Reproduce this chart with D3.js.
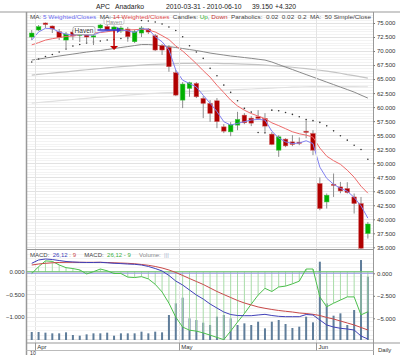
<!DOCTYPE html>
<html>
<head>
<meta charset="utf-8">
<script src="https://cdn.jsdelivr.net/npm/d3@7"></script>
<style>
    body { margin: 0; background: #fff; }
    svg text { font-family: "Liberation Sans", Arial, sans-serif; }
</style>
</head>
<body>
<div id="chart"></div>
<script>

/*
DATA
*/
const dates = ["2010-03-31","2010-04-01","2010-04-05","2010-04-06","2010-04-07","2010-04-08","2010-04-09",
    "2010-04-12","2010-04-13","2010-04-14","2010-04-15","2010-04-16","2010-04-19","2010-04-20","2010-04-21",
    "2010-04-22","2010-04-23","2010-04-26","2010-04-27","2010-04-28","2010-04-29","2010-04-30","2010-05-03",
    "2010-05-04","2010-05-05","2010-05-06","2010-05-07","2010-05-10","2010-05-11","2010-05-12","2010-05-13",
    "2010-05-14","2010-05-17","2010-05-18","2010-05-19","2010-05-20","2010-05-21","2010-05-24","2010-05-25",
    "2010-05-26","2010-05-27","2010-05-28","2010-06-01","2010-06-02","2010-06-03","2010-06-04","2010-06-07",
    "2010-06-08","2010-06-09","2010-06-10"];

const open = [72.50,73.75,75.00,74.46,73.45,71.96,73.39,72.77,72.86,72.68,74.11,74.38,73.75,73.57,73.93,
    71.66,73.21,73.93,72.73,70.95,70.66,66.13,61.25,63.34,64.23,61.55,60.66,61.13,56.48,55.59,56.79,
    58.57,58.04,58.27,57.98,55.18,52.32,54.29,53.80,53.75,55.71,55.30,46.38,43.09,46.25,45.77,45.48,
    43.98,42.80,37.45];
const high = [73.75,74.64,75.09,74.55,73.93,73.39,73.75,73.57,73.75,73.45,74.82,74.64,74.55,74.46,74.29,
    73.84,74.46,74.11,73.04,71.25,71.07,66.61,64.46,64.52,64.46,61.96,61.25,61.61,56.96,57.32,59.16,
    58.93,58.39,59.46,58.93,55.54,55.00,54.46,55.00,54.59,57.68,55.89,47.45,44.59,48.16,46.66,46.61,
    44.59,43.98,39.52];
const low = [71.96,73.57,74.11,73.21,71.96,70.54,71.96,71.61,71.43,71.07,73.75,73.39,73.21,73.21,71.66,
    71.43,72.50,73.04,70.00,69.29,66.30,61.96,59.82,61.84,61.61,58.04,57.38,56.25,55.36,54.82,55.89,
    56.96,56.61,57.68,55.59,53.21,51.13,52.86,53.04,53.21,54.46,51.43,41.61,41.91,43.98,44.64,44.59,
    41.02,34.50,36.55];
const close = [73.21,74.34,74.73,73.93,72.38,73.04,72.68,73.21,72.50,72.71,74.64,73.75,74.29,74.11,72.55,
    73.45,74.11,73.39,70.18,70.18,67.20,62.14,64.11,64.34,61.84,60.66,58.88,57.41,55.71,56.91,57.80,
    57.20,57.14,57.98,56.61,53.34,54.70,53.09,53.34,53.57,55.48,52.32,41.91,44.29,46.07,45.05,44.77,
    42.80,34.83,39.15];

// volume, millions of shares
const volume = [4.8,4.8,4.4,4.0,4.0,4.6,3.0,2.6,3.4,4.0,4.0,4.4,2.6,4.0,4.0,4.0,5.0,4.0,5.0,4.6,15.0,22.0,
    25.4,13.0,12.0,10.4,9.0,14.0,15.0,13.0,9.0,10.0,9.0,11.0,7.0,11.0,12.0,9.6,7.2,8.0,14.0,10.6,47.0,
    22.0,14.6,16.0,9.0,18.0,48.0,38.0];

const wma5 = [71.95,73.40,74.05,74.00,73.40,73.00,72.85,72.95,72.85,72.85,73.40,73.60,73.75,73.75,73.60,
    73.30,74.00,73.90,72.55,71.65,70.20,66.60,64.80,64.20,63.60,62.10,60.70,59.20,57.40,56.80,57.10,
    57.40,57.70,57.80,57.70,55.70,54.50,53.80,53.50,53.60,54.00,53.50,49.30,47.30,46.25,45.50,45.00,
    43.90,42.40,40.20];
const wma14 = [71.10,71.50,71.95,72.20,72.40,72.60,72.70,72.95,73.05,73.20,73.30,73.45,73.60,73.70,73.75,
    73.80,73.90,73.75,73.40,72.75,72.05,70.90,70.00,68.90,67.75,66.50,65.35,63.90,62.60,61.25,60.20,
    59.45,58.85,58.40,57.95,57.20,56.70,56.15,55.60,55.25,55.00,54.65,52.70,51.25,50.45,49.80,48.75,
    47.50,45.90,44.65];
const parabolic = [68.04,68.57,69.02,69.38,69.82,70.36,70.89,71.16,71.43,71.61,71.79,71.96,72.05,72.23,
    72.32,72.50,75.45,75.36,75.18,74.82,74.29,73.66,72.55,70.95,69.82,68.70,66.91,65.59,63.93,62.63,
    61.13,59.77,59.11,55.48,55.41,59.46,59.34,59.05,58.70,58.27,57.80,57.59,57.27,56.66,55.77,54.88,
    54.11,53.21,52.45,50.71];
const ma50 = [68.39,68.57,68.75,68.93,69.11,69.29,69.46,69.64,69.82,69.96,70.09,70.27,70.45,70.63,70.80,
    70.98,71.16,71.16,71.07,70.95,70.80,70.63,70.45,70.27,70.09,69.88,69.64,69.46,69.29,69.11,68.98,
    68.84,68.70,68.54,68.39,68.04,67.59,67.14,66.70,66.25,65.80,65.36,64.91,64.46,64.02,63.57,63.13,
    62.68,62.14,61.61];
const maUpper = [65.71,65.84,65.95,66.07,66.18,66.30,66.43,66.55,66.66,66.79,66.89,67.00,67.11,67.21,67.32,
    67.41,67.50,67.57,67.63,67.68,67.71,67.75,67.79,67.80,67.82,67.82,67.82,67.80,67.77,67.75,67.71,
    67.68,67.63,67.57,67.50,67.41,67.32,67.21,67.11,66.98,66.86,66.71,66.57,66.41,66.25,66.04,65.80,
    65.61,65.39,65.18];
const maLower = [60.71,60.82,60.93,61.04,61.14,61.25,61.36,61.46,61.57,61.68,61.79,61.88,61.96,62.05,62.14,
    62.23,62.32,62.39,62.46,62.54,62.59,62.64,62.70,62.75,62.80,62.86,62.91,62.96,63.02,63.07,63.13,
    63.18,63.23,63.29,63.34,63.39,63.45,63.50,63.55,63.59,63.63,63.64,63.66,63.66,63.66,63.66,63.64,
    63.64,63.63,63.63];

const macd = [1.11,1.48,1.59,1.53,1.42,1.31,1.26,1.22,1.20,1.20,1.22,1.17,1.11,1.08,1.03,1.00,0.92,0.76,
    0.53,0.26,-0.24,-0.86,-1.30,-1.86,-2.41,-2.86,-3.41,-3.86,-4.30,-4.58,-4.69,-4.71,-4.71,-4.63,-4.56,
    -4.69,-4.78,-4.82,-4.82,-4.82,-4.58,-4.63,-5.19,-5.74,-5.97,-6.11,-6.19,-6.30,-6.97,-7.30];
const signal = [0.92,1.03,1.11,1.17,1.20,1.22,1.22,1.22,1.22,1.22,1.22,1.20,1.17,1.14,1.11,1.06,0.98,0.89,
    0.76,0.59,0.37,0.09,-0.24,-0.58,-0.91,-1.24,-1.63,-2.02,-2.36,-2.69,-3.02,-3.30,-3.52,-3.74,-3.89,
    -4.02,-4.13,-4.22,-4.30,-4.41,-4.47,-4.56,-4.69,-4.91,-5.08,-5.30,-5.52,-5.74,-6.02,-6.30];
const histogram = [-0.04,0.11,0.24,0.23,0.15,0.09,0.07,0.04,-0.05,0.00,0.06,0.02,-0.04,-0.04,-0.12,-0.13,
    -0.11,-0.16,-0.28,-0.45,-0.70,-1.01,-1.23,-1.30,-1.32,-1.36,-1.41,-1.46,-1.51,-1.32,-1.12,-0.93,
    -0.72,-0.52,-0.37,-0.44,-0.34,-0.32,-0.27,-0.21,0.06,0.06,-0.56,-0.78,-0.70,-0.63,-0.56,-0.56,
    -0.96,-0.89];

const priceTicks = [35,37.5,40,42.5,45,47.5,50,52.5,55,57.5,60,62.5,65,67.5,70,72.5,75];
const macdTicks = [0,-0.5,-1];
const rightTicks = [0,-2.5,-5];

const width = 400;
const height = 355;

const svg = d3.select("#chart")
    .append("svg")
    .attr("width", width)
    .attr("height", height);

const pLeft = 26.5, pRight = 373.5, pTop = 12, mainBottom = 249.5, macdBottom = 343;

/*
SCALES
*/
const xScale = d3.scaleBand().domain(dates).range([28.3, 371.3]);
const xc = function(i) { return xScale(dates[i]) + xScale.bandwidth() / 2; };

const yScale = d3.scaleLinear().domain([35, 75]).range([247.3, 23]);
const yMacd = d3.scaleLinear().domain([0, -1]).range([271.7, 316.7]);
const yRight = d3.scaleLinear().domain([0, -5]).range([273.3, 318.3]);
const yVol = d3.scaleLinear().domain([0, 50]).range([340, 256.7]);

svg.append("clipPath").attr("id", "clipMain")
    .append("rect").attr("x", pLeft).attr("y", pTop).attr("width", pRight - pLeft).attr("height", mainBottom - pTop);
svg.append("clipPath").attr("id", "clipMacd")
    .append("rect").attr("x", pLeft).attr("y", mainBottom).attr("width", pRight - pLeft).attr("height", macdBottom - mainBottom);

/*
GRID
*/
const main = svg.append("g").attr("clip-path", "url(#clipMain)");
const minor = d3.range(33, 77.01, 0.5);
main.selectAll("line.minor").data(minor).enter().append("line")
    .attr("x1", pLeft).attr("x2", pRight)
    .attr("y1", function(d) { return Math.round(yScale(d)) + 0.5; })
    .attr("y2", function(d) { return Math.round(yScale(d)) + 0.5; })
    .attr("stroke", function(d) { return d % 2.5 === 0 ? "#e2e2e2" : "#f3f3f3"; });

const monthStarts = dates.map(function(d, i) { return i; }).filter(function(i) {
    return i > 0 && dates[i].slice(5, 7) !== dates[i - 1].slice(5, 7);
});

svg.selectAll("line.vgrid").data(monthStarts).enter().append("line")
    .attr("x1", function(i) { return Math.round(xScale(dates[i])) + 0.5; })
    .attr("x2", function(i) { return Math.round(xScale(dates[i])) + 0.5; })
    .attr("y1", pTop).attr("y2", macdBottom)
    .attr("stroke", "#e4e4e4");

/*
MOVING AVERAGES (GRAY)
*/
function priceLine(values) {
    return d3.line()
        .x(function(d, i) { return xc(i); })
        .y(function(d) { return yScale(d); })(values);
}

main.append("path").attr("d", priceLine(maLower)).attr("fill", "none").attr("stroke", "#e0e0e0").attr("stroke-width", 1.2);
main.append("path").attr("d", priceLine(maUpper)).attr("fill", "none").attr("stroke", "#c4c4c4").attr("stroke-width", 1.2);
main.append("path").attr("d", priceLine(ma50)).attr("fill", "none").attr("stroke", "#8a8a8a").attr("stroke-width", 1);

/*
PARABOLIC SAR
*/
main.selectAll("circle.sar").data(parabolic).enter().append("circle")
    .attr("cx", function(d, i) { return xc(i); })
    .attr("cy", function(d) { return yScale(d); })
    .attr("r", 0.8)
    .attr("fill", "#333");

/*
CANDLES
*/
const candles = main.selectAll("g.candle").data(dates).enter().append("g");

candles.append("line")
    .attr("x1", function(d, i) { return xc(i); })
    .attr("x2", function(d, i) { return xc(i); })
    .attr("y1", function(d, i) { return yScale(high[i]); })
    .attr("y2", function(d, i) { return yScale(low[i]); })
    .attr("stroke", "#8c8c8c")
    .attr("stroke-width", 1);

candles.append("rect")
    .attr("x", function(d, i) { return xc(i) - 2.3; })
    .attr("width", 4.6)
    .attr("y", function(d, i) { return yScale(Math.max(open[i], close[i])); })
    .attr("height", function(d, i) { return Math.max(1.2, Math.abs(yScale(open[i]) - yScale(close[i]))); })
    .attr("fill", function(d, i) { return close[i] >= open[i] ? "#00b000" : "#b00000"; })
    .attr("stroke", function(d, i) { return close[i] >= open[i] ? "#40c040" : "#d06060"; })
    .attr("stroke-width", 0.5);

main.append("path").attr("d", priceLine(wma14)).attr("fill", "none").attr("stroke", "#ee6a6a").attr("stroke-width", 1);
main.append("path").attr("d", priceLine(wma5)).attr("fill", "none").attr("stroke", "#8080f0").attr("stroke-width", 1);

/*
ANNOTATION
*/
const note = svg.append("g");
note.append("rect").attr("x", 104).attr("y", 17.5).attr("width", 20).attr("height", 7)
    .attr("rx", 2).attr("fill", "#fff").attr("stroke", "#aaa").attr("stroke-width", 0.6);
note.append("text").attr("x", 114).attr("y", 23.5).attr("text-anchor", "middle")
    .attr("font-size", 5.5).attr("fill", "#888").text("Haven");

const hy = yScale(73.75);
note.append("line").attr("x1", xc(12)).attr("x2", xc(12)).attr("y1", hy).attr("y2", yScale(70.7))
    .attr("stroke", "#c00000").attr("stroke-width", 1.5);
note.append("path")
    .attr("d", `M${xc(12) - 4},${yScale(70.9)} L${xc(12) + 4},${yScale(70.9)} L${xc(12)},${yScale(70.2)} Z`)
    .attr("fill", "#c00000");
note.append("line").attr("x1", xc(9) + 4).attr("x2", xc(13) - 2).attr("y1", hy).attr("y2", hy)
    .attr("stroke", "#3a3ad0").attr("stroke-width", 1.5);
note.append("path")
    .attr("d", `M${xc(13) - 4},${hy - 3} L${xc(13) - 4},${hy + 3} L${xc(13) + 0.5},${hy} Z`)
    .attr("fill", "#3a3ad0");

note.append("rect").attr("x", 73).attr("y", 26.5).attr("width", 22).attr("height", 8)
    .attr("rx", 2).attr("fill", "#fff").attr("stroke", "#999").attr("stroke-width", 0.7);
note.append("text").attr("x", 84).attr("y", 32.8).attr("text-anchor", "middle")
    .attr("font-size", 6.5).attr("fill", "#333").text("Haven");

/*
MACD PANEL
*/
const lower = svg.append("g").attr("clip-path", "url(#clipMacd)");
lower.selectAll("line.mgrid").data(d3.range(0.4, -1.61, -0.1)).enter().append("line")
    .attr("x1", pLeft).attr("x2", pRight)
    .attr("y1", function(d) { return Math.round(yMacd(d)) + 0.5; })
    .attr("y2", function(d) { return Math.round(yMacd(d)) + 0.5; })
    .attr("stroke", function(d) { return Math.abs(d * 2 - Math.round(d * 2)) < 0.01 ? "#e2e2e2" : "#f3f3f3"; });

lower.selectAll("rect.vol").data(volume).enter().append("rect")
    .attr("x", function(d, i) { return xc(i) - 1; })
    .attr("width", 2)
    .attr("y", function(d) { return yVol(d); })
    .attr("height", function(d) { return yVol(0) - yVol(d); })
    .attr("fill", "#5f7d9a");

lower.selectAll("line.hist").data(histogram).enter().append("line")
    .attr("x1", function(d, i) { return xc(i); })
    .attr("x2", function(d, i) { return xc(i); })
    .attr("y1", yMacd(0))
    .attr("y2", function(d) { return yMacd(d); })
    .attr("stroke", "#a8dca8")
    .attr("stroke-width", 1);

lower.append("line").attr("x1", pLeft).attr("x2", pRight).attr("y1", yMacd(0)).attr("y2", yMacd(0))
    .attr("stroke", "#6cc46c").attr("stroke-width", 1);
lower.append("line").attr("x1", pLeft).attr("x2", pRight).attr("y1", yRight(0)).attr("y2", yRight(0))
    .attr("stroke", "#9a9ae6").attr("stroke-width", 1);

const histLine = d3.line().x(function(d, i) { return xc(i); }).y(function(d) { return yMacd(d); });
const rightLine = d3.line().x(function(d, i) { return xc(i); }).y(function(d) { return yRight(d); });

lower.append("path").attr("d", histLine(histogram)).attr("fill", "none").attr("stroke", "#4cbf4c").attr("stroke-width", 1);
lower.append("path").attr("d", rightLine(signal)).attr("fill", "none").attr("stroke", "#c84848").attr("stroke-width", 1);
lower.append("path").attr("d", rightLine(macd)).attr("fill", "none").attr("stroke", "#4040b8").attr("stroke-width", 1);

/*
FRAME
*/
const frame = svg.append("g").attr("stroke", "#999").attr("fill", "none");
frame.append("line").attr("x1", 0).attr("x2", width).attr("y1", pTop).attr("y2", pTop);
frame.append("line").attr("x1", pLeft).attr("x2", pLeft).attr("y1", pTop).attr("y2", height).attr("stroke-width", 1.5);
frame.append("line").attr("x1", pRight).attr("x2", pRight).attr("y1", pTop).attr("y2", height);
frame.append("line").attr("x1", pLeft).attr("x2", pRight).attr("y1", mainBottom).attr("y2", mainBottom);
frame.append("line").attr("x1", pLeft).attr("x2", width).attr("y1", macdBottom).attr("y2", macdBottom);
frame.append("line").attr("x1", pLeft).attr("x2", pRight).attr("y1", 350.5).attr("y2", 350.5).attr("stroke", "#bbb");

/*
AXES
*/
function styleAxis(g) {
    g.select(".domain").remove();
    g.selectAll(".tick line").attr("stroke", "#777");
    g.selectAll(".tick text").attr("font-size", 6).attr("fill", "#333")
        .attr("font-family", "'Liberation Sans', Arial, sans-serif");
}

svg.append("g")
    .attr("transform", `translate(${pRight},0)`)
    .call(d3.axisRight(yScale).tickValues(priceTicks).tickFormat(d3.format(".3f")).tickSize(1.5).tickPadding(2))
    .call(styleAxis);

svg.append("g")
    .attr("transform", `translate(${pRight},0)`)
    .call(d3.axisRight(yRight).tickValues(rightTicks).tickFormat(d3.format(".3f")).tickSize(1.5).tickPadding(2))
    .call(styleAxis);

svg.append("g")
    .attr("transform", `translate(${pLeft},0)`)
    .call(d3.axisLeft(yMacd).tickValues(macdTicks).tickFormat(d3.format(".3f")).tickSize(0).tickPadding(2))
    .call(styleAxis);

const monthFmt = d3.timeFormat("%b");
const parse = d3.timeParse("%Y-%m-%d");
const months = svg.selectAll("g.month").data(monthStarts)
    .enter().append("g");
months.append("line")
    .attr("x1", function(i) { return Math.round(xScale(dates[i])) + 0.5; })
    .attr("x2", function(i) { return Math.round(xScale(dates[i])) + 0.5; })
    .attr("y1", macdBottom).attr("y2", 350.5)
    .attr("stroke", "#999");
months.append("text")
    .attr("x", function(i) { return xScale(dates[i]) + 2; })
    .attr("y", 349)
    .attr("font-size", 6).attr("fill", "#333")
    .text(function(i) { return monthFmt(parse(dates[i])); });

svg.append("text").attr("x", 30).attr("y", 354.5).attr("font-size", 5.2).attr("fill", "#333").text("10");
svg.append("text").attr("x", 378).attr("y", 352).attr("font-size", 6).attr("fill", "#333").text("Daily");

/*
TITLE AND LEGENDS
*/
const title = svg.append("text").attr("y", 9).attr("font-size", 6.8).attr("fill", "#222");
title.append("tspan").attr("x", 96).text("APC");
title.append("tspan").attr("x", 115).text("Anadarko");
title.append("tspan").attr("x", 166).text("2010-03-31 - 2010-06-10");
title.append("tspan").attr("x", 252).text("39.150");
title.append("tspan").attr("x", 275).text("+4.320");

const legend = svg.append("text").attr("x", 30).attr("y", 18.5).attr("font-size", 6)
    .attr("textLength", 341).attr("lengthAdjust", "spacingAndGlyphs").attr("fill", "#444")
    .attr("xml:space", "preserve");
[["MA: ", "#444"], ["5 Weighted/Closes", "#6a6af0"], ["  MA: ", "#444"], ["14 Weighted/Closes", "#e04848"],
 ["  Candles: ", "#444"], ["Up", "#30b030"], [", ", "#444"], ["Down", "#c03030"],
 ["  Parabolics:  0.02  0.02  0.2  MA:  50 Simple/Close", "#444"]].forEach(function(p) {
    legend.append("tspan").attr("fill", p[1]).text(p[0]);
});

const legend2 = svg.append("text").attr("x", 30).attr("y", 257).attr("font-size", 6)
    .attr("fill", "#444").attr("xml:space", "preserve");
[["MACD:  ", "#444"], ["26,12", "#4040b8"], [" : 9", "#c84848"], ["     MACD:  ", "#444"],
 ["26,12 - 9", "#3cae3c"], ["     Volume:  ", "#888"], ["|||", "#a0b4cc"]].forEach(function(p) {
    legend2.append("tspan").attr("fill", p[1]).text(p[0]);
});

</script>
</body>
</html>
